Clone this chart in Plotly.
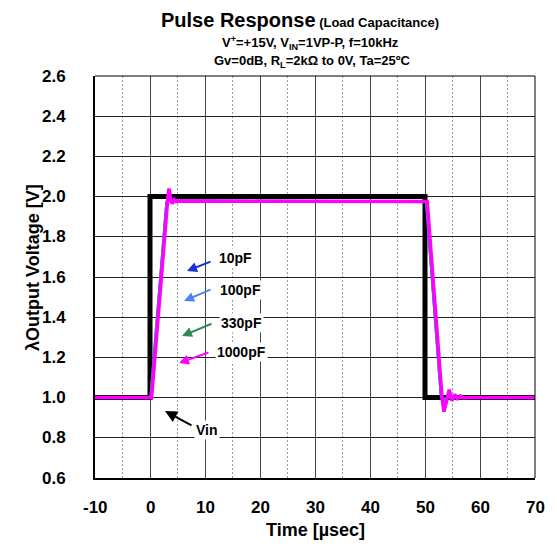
import plotly.graph_objects as go

# ---- data ----
vin_t = [-10, 0, 0, 50, 50, 70]
vin_v = [1.0, 1.0, 2.0, 2.0, 1.0, 1.0]

t_10 = [-10, 0.1, 3.0, 3.3, 3.6, 4.0, 4.5, 50, 50.2, 52.9, 53.2, 53.6, 54.1, 55, 56, 70]
v_10 = [1.0, 1.0, 1.97, 1.99, 1.98, 1.976, 1.978, 1.978, 1.976, 1.01, 0.99, 0.996, 1.003, 1.0, 1.0, 1.0]

t_100 = [-10, 0.1, 3.0, 3.3, 3.6, 4.0, 4.5, 50, 50.2, 52.9, 53.2, 53.6, 54.1, 55, 56, 70]
v_100 = [1.0, 1.0, 1.97, 2.0, 1.98, 1.974, 1.978, 1.978, 1.976, 1.01, 0.98, 0.99, 1.006, 0.998, 1.0, 1.0]

t_330 = [-10, 0.2, 3.1, 3.4, 3.7, 4.0, 4.5, 50, 50.3, 53.0, 53.3, 53.7, 54.2, 54.8, 55.5, 70]
v_330 = [1.0, 1.0, 1.97, 2.02, 1.98, 1.97, 1.98, 1.978, 1.976, 1.01, 0.96, 0.98, 1.02, 0.99, 1.0, 1.0]

t_1000 = [-10, 0.3, 3.2, 3.45, 3.75, 4.0, 4.4, 4.8, 5.5, 50, 50.4, 53.1, 53.45, 53.9, 54.4, 54.9, 55.4, 55.9, 56.4, 57.0, 58.0, 70]
v_1000 = [1.0, 1.0, 1.98, 2.04, 1.99, 1.965, 1.985, 1.975, 1.978, 1.978, 1.976, 1.0, 0.93, 0.98, 1.04, 0.985, 1.015, 0.995, 1.008, 0.998, 1.0, 1.0]

series_names = ["10pF", "100pF", "330pF", "1000pF"]
series_colors = ["#1f2fd6", "#4a86f0", "#2e8b57", "#ff00ff"]
series_t = [t_10, t_100, t_330, t_1000]
series_v = [v_10, v_100, v_330, v_1000]
series_w = [2.5, 2.5, 2.5, 3.5]

x_ticks = [-10, 0, 10, 20, 30, 40, 50, 60, 70]
x_tick_labels = ["-10", "0", "10", "20", "30", "40", "50", "60", "70"]
y_ticks = [0.6, 0.8, 1.0, 1.2, 1.4, 1.6, 1.8, 2.0, 2.2, 2.4, 2.6]
y_tick_labels = ["0.6", "0.8", "1.0", "1.2", "1.4", "1.6", "1.8", "2.0", "2.2", "2.4", "2.6"]

# annotation anchors (data coords of arrow tips)
label_tip_t = [6.73, 6.18, 5.82, 5.27]
label_tip_v = [1.630, 1.481, 1.306, 1.172]
vin_tip = (2.73, 0.933)

FONT = "Liberation Sans, Arial, sans-serif"

fig = go.Figure()
fig.add_trace(go.Scatter(x=vin_t, y=vin_v, mode="lines",
                         line=dict(color="black", width=5), showlegend=False))
for n, c, t, v, w in zip(series_names, series_colors, series_t, series_v, series_w):
    fig.add_trace(go.Scatter(x=t, y=v, mode="lines", name=n,
                             line=dict(color=c, width=w), showlegend=False))

L, R, T, B = 95, 535, 76, 478
W, H = 557, 547

def px_x(px):
    return (px - L) / (R - L)

def px_y(py):
    return (B - py) / (B - T)

annos = []
arrow_offsets = [(25, -10), (28, -12), (31, -13), (31, -11)]
text_pos = [(235, 258), (240, 290), (241, 323), (241, 352)]
for n, c, tt, tv, off, tp in zip(series_names, series_colors, label_tip_t, label_tip_v, arrow_offsets, text_pos):
    annos.append(dict(x=tt, y=tv, xref="x", yref="y", ax=off[0], ay=off[1],
                      axref="pixel", ayref="pixel", showarrow=True, arrowhead=2,
                      arrowsize=1.0, arrowwidth=2, arrowcolor=c, text=""))
    annos.append(dict(x=px_x(tp[0]), y=px_y(tp[1]), xref="paper", yref="paper",
                      text="<b>%s</b>" % n, showarrow=False, bgcolor="white",
                      font=dict(family=FONT, size=14, color="black"),
                      xanchor="center", yanchor="middle", borderpad=1))
annos.append(dict(x=vin_tip[0], y=vin_tip[1], xref="x", yref="y", ax=28, ay=15,
                  axref="pixel", ayref="pixel", showarrow=True, arrowhead=2,
                  arrowsize=1.2, arrowwidth=2, arrowcolor="black", text=""))
annos.append(dict(x=px_x(207), y=px_y(430), xref="paper", yref="paper",
                  text="<b>Vin</b>", showarrow=False, bgcolor="white",
                  font=dict(family=FONT, size=14, color="black"),
                  xanchor="center", yanchor="middle", borderpad=1))

# tick labels (bold), positioned through the axis scales
for v, s in zip(x_ticks, x_tick_labels):
    annos.append(dict(x=v, y=px_y(507), xref="x", yref="paper", showarrow=False,
                      text="<b>%s</b>" % s, font=dict(family=FONT, size=17, color="black"),
                      xanchor="center", yanchor="middle"))
for v, s in zip(y_ticks, y_tick_labels):
    annos.append(dict(x=px_x(68), y=v, xref="paper", yref="y", showarrow=False,
                      text="<b>%s</b>" % s, font=dict(family=FONT, size=17, color="black"),
                      xanchor="right", yanchor="middle"))

# titles
annos.append(dict(x=px_x(300), y=px_y(20), xref="paper", yref="paper", showarrow=False,
                  text="<b>Pulse Response</b><b><span style='font-size:13px'> (Load Capacitance)</span></b>",
                  font=dict(family=FONT, size=20, color="black"),
                  xanchor="center", yanchor="middle"))
annos.append(dict(x=px_x(310), y=px_y(43), xref="paper", yref="paper", showarrow=False,
                  text="<b>V<sup>+</sup>=+15V, V<sub>IN</sub>=1VP-P, f=10kHz</b>",
                  font=dict(family=FONT, size=13, color="black"),
                  xanchor="center", yanchor="middle"))
annos.append(dict(x=px_x(312), y=px_y(61), xref="paper", yref="paper", showarrow=False,
                  text="<b>Gv=0dB, R<sub>L</sub>=2kΩ to 0V, Ta=25ºC</b>",
                  font=dict(family=FONT, size=13, color="black"),
                  xanchor="center", yanchor="middle"))
# axis titles
annos.append(dict(x=px_x(315), y=px_y(530), xref="paper", yref="paper", showarrow=False,
                  text="<b>Time [µsec]</b>",
                  font=dict(family=FONT, size=18, color="black"),
                  xanchor="center", yanchor="middle"))
annos.append(dict(x=px_x(33), y=px_y(268), xref="paper", yref="paper", showarrow=False,
                  text="<b>λOutput Voltage [V]</b>", textangle=-90,
                  font=dict(family=FONT, size=18, color="black"),
                  xanchor="center", yanchor="middle"))

shapes = [
    dict(type="line", xref="paper", yref="paper", x0=0, x1=1, y0=1, y1=1,
         line=dict(color="black", width=1)),
    dict(type="line", xref="paper", yref="paper", x0=1, x1=1, y0=0, y1=1,
         line=dict(color="black", width=1)),
]

fig.update_layout(
    width=W, height=H,
    margin=dict(l=L, r=W - R, t=T, b=H - B),
    plot_bgcolor="white", paper_bgcolor="white",
    annotations=annos, shapes=shapes,
    font=dict(family=FONT, color="black"),
    xaxis=dict(range=[-10, 70], tickmode="array", tickvals=x_ticks,
               showticklabels=False, showgrid=True,
               gridcolor="#444444", gridwidth=1,
               minor=dict(dtick=5, tick0=0, showgrid=True, gridcolor="#9a9a9a",
                          griddash="2px,2px", gridwidth=1),
               showline=True, linecolor="black", linewidth=2, zeroline=False, ticks=""),
    yaxis=dict(range=[0.6, 2.6], tickmode="array", tickvals=y_ticks,
               showticklabels=False, showgrid=True,
               gridcolor="#222222", gridwidth=1,
               showline=True, linecolor="black", linewidth=2, zeroline=False, ticks=""),
)

fig.write_html("out.html")
